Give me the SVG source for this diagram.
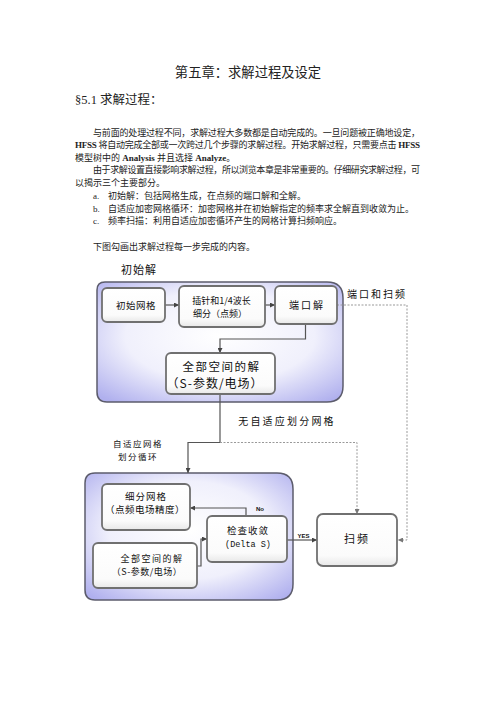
<svg xmlns="http://www.w3.org/2000/svg" width="496" height="702" viewBox="0 0 496 702">
<defs>
<radialGradient id="panelG" cx="50%" cy="45%" r="70%">
<stop offset="0" stop-color="#ffffff"/>
<stop offset="0.55" stop-color="#f0f0fc"/>
<stop offset="1" stop-color="#b0b0ee"/>
</radialGradient>
<linearGradient id="boxG" x1="0" y1="0" x2="0" y2="1">
<stop offset="0" stop-color="#ffffff"/>
<stop offset="0.8" stop-color="#fbfbfb"/>
<stop offset="1" stop-color="#e8e8e8"/>
</linearGradient>
<marker id="arr" viewBox="0 0 6 6" refX="6" refY="3" markerWidth="5" markerHeight="5" orient="auto" markerUnits="userSpaceOnUse">
<path d="M0,0 L6,3 L0,6 z" fill="#444"/>
</marker>
<marker id="arrD" viewBox="0 0 6 6" refX="6" refY="3" markerWidth="5" markerHeight="5" orient="auto" markerUnits="userSpaceOnUse">
<path d="M0,0 L6,3 L0,6 z" fill="#777"/>
</marker>
</defs>
<style>
.doc{font-family:"Liberation Serif","Noto Sans CJK SC",serif;fill:#222;}
.p{font-size:9px;}
.b{font-weight:bold;}
.lbl{font-family:"Noto Sans CJK SC","DejaVu Sans",sans-serif;fill:#111;text-anchor:middle;}
.lat{font-family:"Liberation Sans",sans-serif;font-weight:bold;}
.mono{font-family:"Liberation Mono",monospace;}
.panel{fill:url(#panelG);stroke:#5c5c6c;stroke-width:1.5;}
.box{fill:url(#boxG);stroke:#707070;stroke-width:1.8;}
.ln{fill:none;stroke:#555;stroke-width:1.2;}
.dash{fill:none;stroke:#999;stroke-width:1;stroke-dasharray:2 1.5;}
</style>

<g id="document-text" class="doc">
<text x="248" y="76.5" font-size="13.3" text-anchor="middle">第五章：求解过程及设定</text>
<text x="75" y="104" font-size="12.5">§5.1  求解过程：</text>
<text class="p" x="93" y="135.7" textLength="327" lengthAdjust="spacing">与前面的处理过程不同，求解过程大多数都是自动完成的。一旦问题被正确地设定，</text>
<text class="p" x="75" y="148.2" textLength="345" lengthAdjust="spacing"><tspan class="b">HFSS</tspan> 将自动完成全部或一次跨过几个步骤的求解过程。开始求解过程，只需要点击 <tspan class="b">HFSS</tspan></text>
<text class="p" x="75" y="160.7">模型树中的 <tspan class="b">Analysis</tspan> 并且选择 <tspan class="b">Analyze</tspan>。</text>
<text class="p" x="93" y="173.2" textLength="327" lengthAdjust="spacing">由于求解设置直接影响求解过程，所以浏览本章是非常重要的。仔细研究求解过程，可</text>
<text class="p" x="75" y="185.7">以揭示三个主要部分。</text>
<text class="p" x="93" y="199.2">a.</text>
<text class="p" x="108" y="199.2">初始解：包括网格生成，在点频的端口解和全解。</text>
<text class="p" x="93" y="211.7">b.</text>
<text class="p" x="108" y="211.7">自适应加密网格循环：加密网格并在初始解指定的频率求全解直到收敛为止。</text>
<text class="p" x="93" y="224.2">c.</text>
<text class="p" x="108" y="224.2">频率扫描：利用自适应加密循环产生的网格计算扫频响应。</text>
<text class="p" x="93" y="249.7">下图勾画出求解过程每一步完成的内容。</text>
</g>

<g id="panel-initial">
<path class="panel" d="M105,282 H327 Q343,282 343,298 V386 Q343,402 327,402 H107 Q97,402 97,392 V290 Q97,282 105,282 Z"/>
</g>
<g id="panel-adaptive">
<path class="panel" d="M95,473 H277 Q293,473 293,489 V584 Q293,600 277,600 H95 Q85,600 85,590 V483 Q85,473 95,473 Z"/>
</g>

<g id="connectors">
<path class="ln" d="M165,305 H179" marker-end="url(#arr)"/>
<path class="ln" d="M265,305 H275" marker-end="url(#arr)"/>
<path class="ln" d="M305.5,324 V339 H220 V353" marker-end="url(#arr)"/>
<path class="ln" d="M220,394 V442.5 H188 V473" marker-end="url(#arr)"/>
<path class="dash" d="M337,305 H407 V540 H398" marker-end="url(#arrD)"/>
<path class="dash" d="M220,442.5 H357 V514" marker-end="url(#arrD)"/>
<path class="ln" d="M197,566 H201 V539 H207" marker-end="url(#arr)"/>
<path class="ln" d="M246,516 V508 H190" marker-end="url(#arr)"/>
<path class="ln" d="M287,540 H317" marker-end="url(#arr)"/>
</g>

<g id="label-initial-solution" class="lbl"><text x="139" y="274" font-size="11" letter-spacing="1">初始解</text></g>
<g id="label-port-sweep" class="lbl"><text x="377" y="297.5" font-size="10" letter-spacing="2">端口和扫频</text></g>
<g id="label-no-adaptive" class="lbl"><text x="287" y="424.5" font-size="10" letter-spacing="2.2">无自适应划分网格</text></g>
<g id="label-adaptive-loop" class="lbl" font-size="8.5" letter-spacing="1.5">
<text x="138" y="447">自适应网格</text>
<text x="138" y="460">划分循环</text>
</g>
<g id="label-no" class="lbl"><text class="lat" x="260" y="510.5" font-size="6">No</text></g>
<g id="label-yes" class="lbl"><text class="lat" x="303.5" y="537.5" font-size="6">YES</text></g>

<g id="node-initial-mesh">
<rect class="box" x="102" y="288" width="63" height="34" rx="5"/>
<text class="lbl" x="136" y="308.5" font-size="9.5" letter-spacing="0.5">初始网格</text>
</g>
<g id="node-port-refine">
<rect class="box" x="179" y="286" width="86" height="41" rx="5"/>
<text class="lbl" x="221.5" y="304" font-size="9">插针和1/4波长</text>
<text class="lbl" x="220" y="316.5" font-size="9">细分（点频）</text>
</g>
<g id="node-port-solution">
<rect class="box" x="275" y="286" width="62" height="38" rx="5"/>
<text class="lbl" x="307" y="308.5" font-size="10" letter-spacing="2">端口解</text>
</g>
<g id="node-full-solution-1">
<rect class="box" x="166" y="353" width="109" height="41" rx="5"/>
<text class="lbl" x="221.5" y="370.5" font-size="11.5" letter-spacing="1.5">全部空间的解</text>
<text class="lbl" x="215" y="387.5" font-size="12" letter-spacing="1">（S-参数/电场）</text>
</g>
<g id="node-refine-mesh">
<rect class="box" x="102" y="484" width="88" height="46" rx="5"/>
<text class="lbl" x="146" y="499.5" font-size="9.5" letter-spacing="1">细分网格</text>
<text class="lbl" x="145" y="512.5" font-size="9.5" letter-spacing="0.5">（点频电场精度）</text>
</g>
<g id="node-converge">
<rect class="box" x="207" y="516" width="80" height="46" rx="5"/>
<text class="lbl" x="248" y="533.5" font-size="9.5" letter-spacing="1">检查收敛</text>
<text class="lbl mono" x="248" y="546.5" font-size="8.5">(Delta S)</text>
</g>
<g id="node-full-solution-2">
<rect class="box" x="93" y="543" width="104" height="45" rx="5"/>
<text class="lbl" x="152" y="561.5" font-size="9" letter-spacing="1.5">全部空间的解</text>
<text class="lbl" x="147" y="574.5" font-size="9" letter-spacing="0.5">（S-参数/电场）</text>
</g>
<g id="node-sweep">
<rect class="box" x="317" y="514" width="80" height="52" rx="6"/>
<text class="lbl" x="357" y="543" font-size="11" letter-spacing="2">扫频</text>
</g>
</svg>
